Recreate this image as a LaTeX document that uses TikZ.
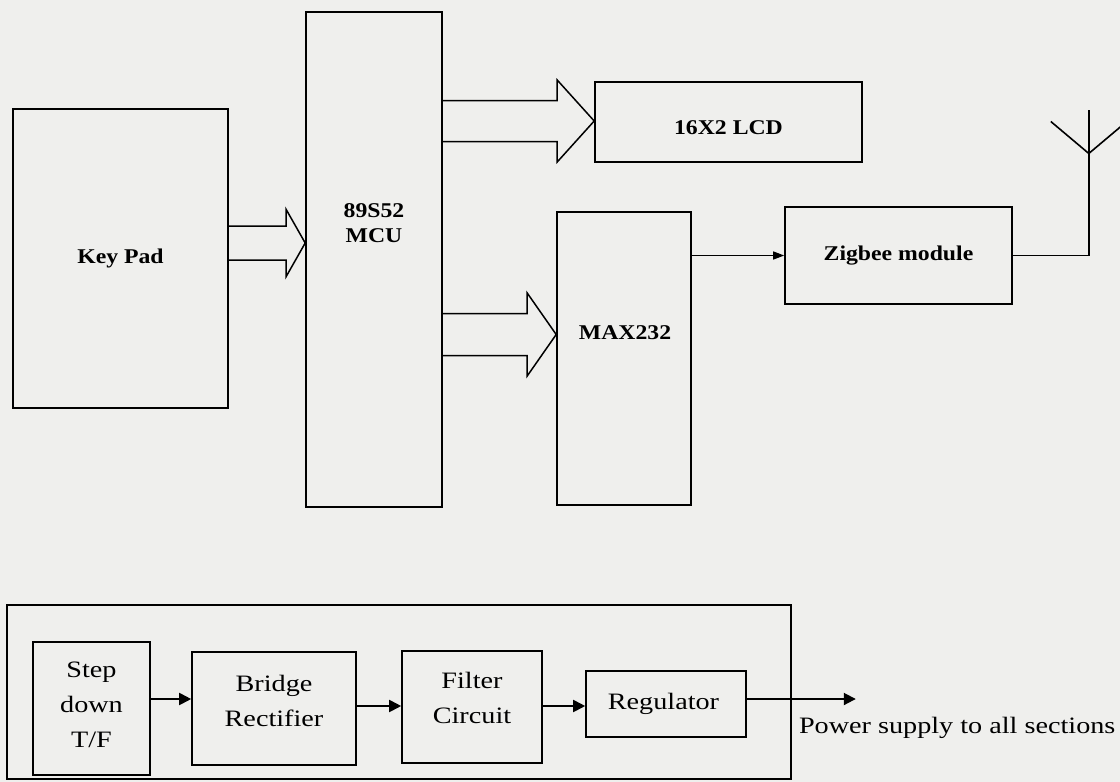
\documentclass[tikz,border=0pt]{standalone}
\usepackage{fontspec}
\setmainfont{Liberation Serif}
\newfontfamily\blockfont{Liberation Serif}[FakeStretch=1.2]
\newfontfamily\headfont{Liberation Serif}[FakeStretch=1.13]
\usetikzlibrary{calc, arrows.meta}
\definecolor{paperGray}{RGB}{239,239,237}

% hollow block arrow: from, to, shaft half, head half, head length
\newcommand{\hollowarrow}[5]{%
  \draw[hollow] ($(#1)+(0,-#3)$) -- ($(#2)+(-#5,-#3)$) -- ($(#2)+(-#5,-#4)$) -- (#2)
    -- ($(#2)+(-#5,#4)$) -- ($(#2)+(-#5,#3)$) -- ($(#1)+(0,#3)$);}

\begin{document}
\begin{tikzpicture}[x=1pt, y=-1pt,
    box/.style={draw, line width=1.6pt, inner sep=0pt},
    toptxt/.style={font={\headfont\bfseries\fontsize{21}{25}\selectfont}, align=center, inner sep=0pt},
    lowtxt/.style={font={\blockfont\fontsize{23.5}{35}\selectfont}, align=center, inner sep=0pt},
    hollow/.style={line width=1.5pt, line join=miter},
    wire/.style={line width=1.6pt, line join=miter},
    flow/.style={line width=1.9pt, -{Triangle[length=12pt, width=12pt]}}
  ]
  \clip (0,0) rectangle (1120,782);
  \fill[paperGray] (0,0) rectangle (1120,782);

  % Controller section
  \node[box, toptxt, minimum width=215pt, minimum height=299pt] (kpd) at (120.5,258.5) {Key Pad};
  \node[box, minimum width=136pt, minimum height=495pt] (mcu) at (374,259.5) {};
  \node[toptxt] (mcu-lbl) at ($(mcu.center)+(0,-36.5)$) {89S52\\MCU};
  \node[box, minimum width=267pt, minimum height=80pt] (lcd) at (728.5,122) {};
  \node[toptxt] (lcd-lbl) at ($(lcd.center)+(0,5.5)$) {16X2 LCD};
  \node[box, minimum width=134pt, minimum height=293pt] (max) at (624,358.5) {};
  \node[toptxt] (max-lbl) at ($(max.center)+(1,-26)$) {MAX232};
  \node[box, toptxt, minimum width=227pt, minimum height=97pt] (zig) at (898.5,255.5) {Zigbee module};

  % Block arrows
  \coordinate (k1) at ($(kpd.east)+(0,-15.5)$);
  \coordinate (k2) at (k1 -| mcu.west);
  \hollowarrow{k1}{k2}{17}{33.5}{19}
  \coordinate (l2) at ($(lcd.west)+(0,-1)$);
  \coordinate (l1) at (l2 -| mcu.east);
  \hollowarrow{l1}{l2}{20.5}{41}{37}
  \coordinate (x2) at ($(max.west)+(0,-24)$);
  \coordinate (x1) at (x2 -| mcu.east);
  \hollowarrow{x1}{x2}{21}{41.5}{29}

  \coordinate (m1) at (max.east |- zig.west);
  \draw[line width=1.4pt, -{Triangle[length=11pt, width=8pt]}] (m1) -- (zig.west);

  % Antenna
  \coordinate (antfoot) at ($(zig.east)+(76,0)$);
  \coordinate (antfork) at ($(antfoot)+(0,-102)$);
  \coordinate (anttip) at ($(antfoot)+(0,-146)$);
  \draw[wire] (zig.east) -- (antfoot) -- (anttip);
  \draw[wire] ($(antfork)+(-38,-32)$) -- (antfork) -- ($(antfork)+(38,-32)$);

  % Power supply section
  \node[box, minimum width=784pt, minimum height=174pt] (psu) at (399,692) {};
  \node[box, minimum width=117pt, minimum height=133pt] (stp) at (91.5,708.5) {};
  \node[lowtxt] (stp-lbl) at ($(stp.center)+(0,-3.5)$) {Step\\down\\T/F};
  \node[box, minimum width=164pt, minimum height=113pt] (brg) at (274,708.5) {};
  \node[lowtxt] (brg-lbl) at ($(brg.center)+(0,-8)$) {Bridge\\Rectifier};
  \node[box, minimum width=140pt, minimum height=112pt] (flt) at (472,707) {};
  \node[lowtxt] (flt-lbl) at ($(flt.center)+(0,-9.5)$) {Filter\\Circuit};
  \node[box, minimum width=160pt, minimum height=66pt] (reg) at (666,704) {};
  \node[lowtxt] (reg-lbl) at ($(reg.center)+(-2.5,-0.5)$) {Regulator};

  \coordinate (s1) at ($(stp.east)+(0,-9.5)$);
  \draw[flow] (s1) -- (s1 -| brg.west);
  \coordinate (s2) at ($(brg.east)+(0,-2.5)$);
  \draw[flow] (s2) -- (s2 -| flt.west);
  \coordinate (s3) at ($(flt.east)+(0,-1)$);
  \draw[flow] (s3) -- (s3 -| reg.west);
  \coordinate (s4) at ($(reg.east)+(0,-5)$);
  \coordinate (pwrout) at ($(s4)+(109,0)$);
  \draw[flow] (s4) -- (pwrout);
  \node[lowtxt, anchor=base west] (pwr-lbl) at ($(pwrout)+(-57,34)$) {Power supply to all sections};
\end{tikzpicture}
\end{document}
